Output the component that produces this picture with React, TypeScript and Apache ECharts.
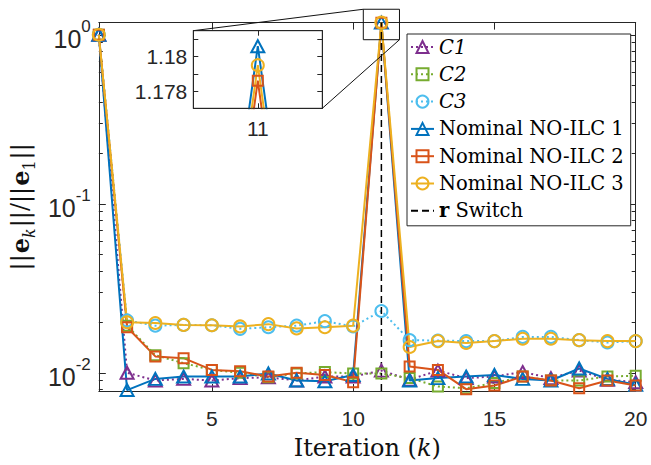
import React, { useEffect, useRef } from 'react';
import * as echarts from 'echarts';

const iterations = [1, 2, 3, 4, 5, 6, 7, 8, 9, 10, 11, 12, 13, 14, 15, 16, 17, 18, 19, 20];
const c1 = [1, 0.0100, 0.0090, 0.0092, 0.0090, 0.0093, 0.0094, 0.0090, 0.0095, 0.0095, 0.0103, 0.0091, 0.0103, 0.0093, 0.0095, 0.0101, 0.0093, 0.0103, 0.0091, 0.0088];
const c2 = [1, 0.0190, 0.0127, 0.0114, 0.0104, 0.0100, 0.0094, 0.0099, 0.0101, 0.0099, 0.0099, 0.0093, 0.0083, 0.0081, 0.0087, 0.0095, 0.0090, 0.0090, 0.0095, 0.0096];
const c3 = [1, 0.0204, 0.0190, 0.0192, 0.0191, 0.0182, 0.0186, 0.0190, 0.0202, 0.0188, 0.0232, 0.0156, 0.0155, 0.0154, 0.0154, 0.0163, 0.0163, 0.0156, 0.0151, 0.0154];
const nom1 = [1, 0.0079, 0.0092, 0.0095, 0.0095, 0.0095, 0.0099, 0.0090, 0.0089, 0.0097, 1.1806, 0.0090, 0.0093, 0.0095, 0.0097, 0.0092, 0.0090, 0.0106, 0.0092, 0.0085];
const nom2 = [1, 0.0186, 0.0125, 0.0122, 0.0104, 0.0102, 0.0095, 0.0100, 0.0097, 0.0088, 1.1786, 0.0109, 0.0104, 0.0080, 0.0084, 0.0095, 0.0090, 0.0081, 0.0090, 0.0084];
const nom3 = [1, 0.0199, 0.0197, 0.0192, 0.0191, 0.0188, 0.0194, 0.0183, 0.0186, 0.0190, 1.1795, 0.0142, 0.0154, 0.0150, 0.0154, 0.0159, 0.0159, 0.0156, 0.0154, 0.0154];
const switchIteration = 11;

const xTicks = [5, 10, 15, 20];
const yMajorTicks = [0.01, 0.1, 1];
const yMinorTicks = [0.008, 0.009, 0.02, 0.03, 0.04, 0.05, 0.06, 0.07, 0.08, 0.09, 0.2, 0.3, 0.4, 0.5, 0.6, 0.7, 0.8, 0.9];
const yRange = [0.0078, 1.1806];

const insetXRange = [10.977, 11.023];
const insetYRange = [1.177, 1.1815];
const insetXTicks = [11];
const insetYTicks = [1.178, 1.179, 1.18, 1.181];
const insetYLabels = [1.178, 1.18];
const zoomBoxX = [10.36, 11.64];
const zoomBoxY = [0.935, 1.416];

const names = ['C1', 'C2', 'C3', 'Nominal NO-ILC 1', 'Nominal NO-ILC 2', 'Nominal NO-ILC 3', 'r Switch'];

const BLUE = '#0072BD';
const ORANGE = '#D95319';
const YELLOW = '#EDB120';
const PURPLE = '#7E2F8E';
const GREEN = '#77AC30';
const LBLUE = '#4DBEEE';
const AX = '#262626';
const SANS = 'Liberation Sans, Arial, Helvetica, sans-serif';
const SERIF = 'DejaVu Serif, serif';

const GRID = { left: 98, top: 22.6, width: 537.7, height: 375.4 };
const INSET = { left: 193.3, top: 30.7, width: 129, height: 77.6 };

function pairs(vals: number[]) {
  return iterations.map((x, i) => [x, vals[i]]);
}

function lineSeries(name: string, vals: number[], color: string, symbol: string, size: any, dotted: boolean, xi: number, yi: number) {
  return {
    type: 'line',
    name,
    data: pairs(vals),
    xAxisIndex: xi,
    yAxisIndex: yi,
    symbol,
    symbolSize: size,
    showSymbol: true,
    showAllSymbol: true,
    clip: true,
    silent: true,
    lineStyle: { color, width: 2, type: dotted ? [2, 3] : 'solid', cap: 'butt' },
    itemStyle: { color: 'rgba(255,255,255,0)', borderColor: color, borderWidth: 2 },
    emphasis: { disabled: true },
  };
}

export default function App() {
  const ref = useRef<HTMLDivElement>(null);
  useEffect(() => {
    const chart = echarts.init(ref.current!, null, { renderer: 'svg' });
    const tickLabel = { fontFamily: SANS, fontSize: 21, color: AX };
    const hiddenLabel = { show: false };
    const noSplit = { show: false };
    const axLine = { show: true, onZero: false, lineStyle: { color: AX, width: 1 } };

    const mainX = (pos: string, labels: boolean, name?: any) => ({
      type: 'value', gridIndex: 0, position: pos, min: 1, max: 20,
      axisLine: axLine, splitLine: noSplit,
      axisTick: { show: true, inside: true, length: 7, customValues: xTicks, lineStyle: { color: AX } },
      axisLabel: labels ? { ...tickLabel, customValues: xTicks, margin: 17 } : hiddenLabel,
      ...(name || {}),
    });
    const mainY = (pos: string, ticks: number[], len: number, showLine: boolean, labels: boolean, name?: any) => ({
      type: 'log', logBase: 10, gridIndex: 0, position: pos, min: yRange[0], max: yRange[1],
      axisLine: showLine ? axLine : { show: false, onZero: false },
      splitLine: noSplit,
      axisTick: { show: true, inside: true, length: len, customValues: ticks, lineStyle: { color: AX } },
      axisLabel: labels ? {
        customValues: yMajorTicks,
        margin: 8,
        formatter: (v: number) => `{b|10}{s|${Math.round(Math.log10(v))}}`,
        rich: {
          b: { fontFamily: SANS, fontSize: 25, color: AX, padding: [8, 0, 0, 0], verticalAlign: 'bottom' },
          s: { fontFamily: SANS, fontSize: 17, color: AX, verticalAlign: 'top' },
        },
      } : hiddenLabel,
      ...(name || {}),
    });
    const insetX = (pos: string, labels: boolean) => ({
      type: 'value', gridIndex: 1, position: pos, min: insetXRange[0], max: insetXRange[1],
      axisLine: axLine, splitLine: noSplit,
      axisTick: { show: true, inside: true, length: 5, customValues: insetXTicks, lineStyle: { color: AX } },
      axisLabel: labels ? { ...tickLabel, customValues: insetXTicks, margin: 10 } : hiddenLabel,
    });
    const insetY = (pos: string, labels: boolean) => ({
      type: 'value', gridIndex: 1, position: pos, min: insetYRange[0], max: insetYRange[1],
      axisLine: axLine, splitLine: noSplit,
      axisTick: { show: true, inside: true, length: 5, customValues: insetYTicks, lineStyle: { color: AX } },
      axisLabel: labels ? {
        ...tickLabel, customValues: insetYLabels, margin: 6,
        formatter: (v: number) => v.toFixed(3).replace(/0+$/, ''),
      } : hiddenLabel,
    });

    const series: any[] = [
      lineSeries('C1', c1, PURPLE, 'triangle', [13, 12], true, 0, 0),
      lineSeries('C2', c2, GREEN, 'rect', 10, true, 0, 0),
      lineSeries('C3', c3, LBLUE, 'circle', 12, true, 0, 0),
      lineSeries('Nominal NO-ILC 1', nom1, BLUE, 'triangle', [13, 12], false, 0, 0),
      lineSeries('Nominal NO-ILC 2', nom2, ORANGE, 'rect', 10, false, 0, 0),
      lineSeries('Nominal NO-ILC 3', nom3, YELLOW, 'circle', 12, false, 0, 0),
      {
        type: 'line', name: 'r Switch', xAxisIndex: 0, yAxisIndex: 0, silent: true,
        data: [[switchIteration, yRange[0]], [switchIteration, yRange[1]]],
        symbol: 'none', lineStyle: { color: '#000', width: 1.5, type: [7, 4] },
        itemStyle: { color: 'rgba(0,0,0,0)', borderWidth: 0 }, emphasis: { disabled: true },
      },
      lineSeries('Nominal NO-ILC 1', nom1, BLUE, 'triangle', [13, 12], false, 2, 4),
      lineSeries('Nominal NO-ILC 2', nom2, ORANGE, 'rect', 10, false, 2, 4),
      lineSeries('Nominal NO-ILC 3', nom3, YELLOW, 'circle', 12, false, 2, 4),
    ];

    const option: any = {
      animation: false,
      backgroundColor: '#fff',
      grid: [
        { ...GRID, containLabel: false },
        { ...INSET, containLabel: false, show: true, backgroundColor: '#fff', borderWidth: 0 },
      ],
      xAxis: [
        mainX('bottom', true, {
          name: 'Iteration ({i|k})', nameLocation: 'middle', nameGap: 45,
          nameTextStyle: {
            fontFamily: SERIF, fontSize: 24, color: '#111',
            rich: { i: { fontFamily: SERIF, fontSize: 24, fontStyle: 'italic', color: '#111' } },
          },
        }),
        mainX('top', false),
        insetX('bottom', true),
        insetX('top', false),
      ],
      yAxis: [
        mainY('left', yMajorTicks, 7, true, true, {
          name: '{n|||}{be|e}{sub|k}{n|||/||}{be|e}{sub1|1}{n|||}',
          nameLocation: 'middle', nameGap: 56, nameRotate: 90,
          nameTextStyle: {
            fontFamily: SERIF, fontSize: 24, color: '#111',
            rich: {
              n: { fontFamily: SERIF, fontSize: 24, color: '#111', padding: [0, 1, 5, 1] },
              be: { fontFamily: SERIF, fontSize: 24, fontWeight: 'bold', color: '#111', padding: [0, 0, 5, 0] },
              sub: { fontFamily: SERIF, fontSize: 16, fontStyle: 'italic', color: '#111', verticalAlign: 'bottom' },
              sub1: { fontFamily: SERIF, fontSize: 16, color: '#111', verticalAlign: 'bottom' },
            },
          },
        }),
        mainY('right', yMajorTicks, 7, true, false),
        mainY('left', yMinorTicks, 4, false, false),
        mainY('right', yMinorTicks, 4, false, false),
        insetY('left', true),
        insetY('right', false),
      ],
      legend: {
        data: names,
        orient: 'vertical',
        left: 407,
        top: 34,
        padding: [3, 7, 5, 3],
        itemWidth: 23,
        itemHeight: 15,
        itemGap: 7.3,
        borderColor: AX,
        borderWidth: 1,
        borderRadius: 0,
        backgroundColor: '#fff',
        selectedMode: false,
        formatter: (name: string) => {
          if (name.startsWith('C')) return `{i|${name}}`;
          if (name === 'r Switch') return '{b|r} Switch';
          return name;
        },
        textStyle: {
          fontFamily: SERIF, fontSize: 19.5, color: '#000',
          rich: {
            i: { fontFamily: SERIF, fontSize: 19.5, fontStyle: 'italic', color: '#000' },
            b: { fontFamily: SERIF, fontSize: 19.5, fontWeight: 'bold', color: '#000' },
          },
        },
      },
      series,
    };
    chart.setOption(option);

    const a = chart.convertToPixel({ seriesIndex: 0 }, [zoomBoxX[0], zoomBoxY[1]]) as number[];
    const b = chart.convertToPixel({ seriesIndex: 0 }, [zoomBoxX[1], zoomBoxY[0]]) as number[];
    const ia = chart.convertToPixel({ seriesIndex: 7 }, [insetXRange[0], insetYRange[1]]) as number[];
    const ib = chart.convertToPixel({ seriesIndex: 7 }, [insetXRange[1], insetYRange[0]]) as number[];
    const st = { stroke: '#111', lineWidth: 1, fill: 'none' };
    chart.setOption({
      graphic: [
        { type: 'rect', z: 10, silent: true, shape: { x: a[0], y: a[1], width: b[0] - a[0], height: b[1] - a[1] }, style: st },
        { type: 'line', z: 10, silent: true, shape: { x1: a[0], y1: a[1], x2: ia[0], y2: ia[1] }, style: st },
        { type: 'line', z: 10, silent: true, shape: { x1: b[0], y1: b[1], x2: ib[0], y2: ib[1] }, style: st },
        { type: 'rect', z: 10, silent: true, shape: { x: ia[0], y: ia[1], width: ib[0] - ia[0], height: ib[1] - ia[1] }, style: { stroke: AX, lineWidth: 1, fill: 'none' } },
      ],
    });
    return () => chart.dispose();
  }, []);
  return <div ref={ref} style={{ position: 'fixed', left: 0, top: 0, width: 651, height: 465 }} />;
}
